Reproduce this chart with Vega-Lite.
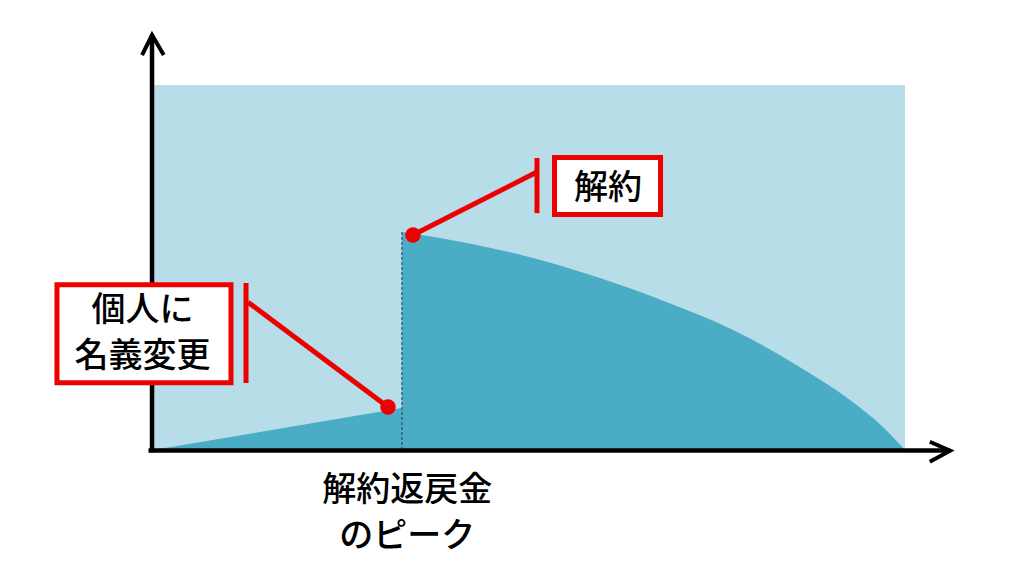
{
  "$schema": "https://vega.github.io/schema/vega-lite/v6.json",
  "width": 1024,
  "height": 572,
  "autosize": "none",
  "padding": 0,
  "background": "white",
  "config": {"view": {"stroke": null}},

  "datasets": {
    "bg": [{"x": 0, "y": 0, "x2": 100, "y2": 100}],
    "curve": [
      {"seg": "L", "x": 0, "y": 0},
      {"seg": "L", "x": 33.1, "y": 11.5},
      {"seg": "R", "x": 33.1, "y": 59.7},
      {"seg": "R", "x": 41.76, "y": 56.7},
      {"seg": "R", "x": 50.53, "y": 52.6},
      {"seg": "R", "x": 59.44, "y": 47.1},
      {"seg": "R", "x": 68.35, "y": 40.5},
      {"seg": "R", "x": 77.13, "y": 32.9},
      {"seg": "R", "x": 86.04, "y": 22.7},
      {"seg": "R", "x": 92.69, "y": 13.7},
      {"seg": "R", "x": 97.07, "y": 6.3},
      {"seg": "R", "x": 100, "y": 0}
    ],
    "peak": [{"x": 33.1, "y": 0, "x2": 33.1, "y2": 59.7}],
    "axes": [
      {"x": -0.13, "y": -0.6, "x2": -0.13, "y2": 113.7},
      {"x": -0.6, "y": -0.14, "x2": 106, "y2": -0.14}
    ],
    "heads": [
      {"g": "y", "o": 0, "x": -1.46, "y": 108.2},
      {"g": "y", "o": 1, "x": -0.13, "y": 113.7},
      {"g": "y", "o": 2, "x": 1.43, "y": 108.2},
      {"g": "x", "o": 0, "x": 103.3, "y": 2.27},
      {"g": "x", "o": 1, "x": 106, "y": -0.2},
      {"g": "x", "o": 2, "x": 103.3, "y": -3.2}
    ],
    "callouts": [
      {"x": 12.37, "y": 45.75, "x2": 12.37, "y2": 18.36},
      {"x": 12.63, "y": 40.5, "x2": 31.25, "y2": 11.8},
      {"x": 51.06, "y": 80.0, "x2": 51.06, "y2": 64.9},
      {"x": 51.06, "y": 76.16, "x2": 34.57, "y2": 58.9}
    ],
    "dots": [
      {"x": 31.25, "y": 11.8},
      {"x": 34.57, "y": 58.9}
    ],
    "boxes": [
      {"x": -12.77, "y": 18.4, "x2": 10.37, "y2": 45.3},
      {"x": 53.39, "y": 64.52, "x2": 67.49, "y2": 80.14}
    ],
    "labels": [
      {"x": -1.4, "y": 38.1, "text": "個人に"},
      {"x": -1.4, "y": 25.6, "text": "名義変更"},
      {"x": 60.5, "y": 71.4, "text": "解約"},
      {"x": 33.8, "y": -11.2, "text": "解約返戻金"},
      {"x": 33.8, "y": -23.75, "text": "のピーク"}
    ]
  },

  "encoding": {
    "x": {
      "field": "x",
      "type": "quantitative",
      "scale": {"domain": [-20.346, 115.824], "nice": false, "zero": false},
      "axis": null
    },
    "y": {
      "field": "y",
      "type": "quantitative",
      "scale": {"domain": [-33.425, 123.288], "nice": false, "zero": false},
      "axis": null
    }
  },

  "layer": [
    {
      "data": {"name": "bg"},
      "mark": {"type": "rect", "color": "#b7dde8"},
      "encoding": {"x2": {"field": "x2"}, "y2": {"field": "y2"}}
    },
    {
      "data": {"name": "curve"},
      "transform": [{"filter": "datum.seg == 'L'"}],
      "mark": {"type": "area", "color": "#4bacc6"}
    },
    {
      "data": {"name": "curve"},
      "transform": [{"filter": "datum.seg == 'R'"}],
      "mark": {"type": "area", "color": "#4bacc6", "interpolate": "monotone"}
    },
    {
      "data": {"name": "peak"},
      "mark": {"type": "rule", "color": "#1f3864", "strokeWidth": 1, "strokeDash": [3, 2]},
      "encoding": {"x2": {"field": "x2"}, "y2": {"field": "y2"}}
    },
    {
      "data": {"name": "axes"},
      "mark": {"type": "rule", "color": "black", "strokeWidth": 4.5},
      "encoding": {"x2": {"field": "x2"}, "y2": {"field": "y2"}}
    },
    {
      "data": {"name": "heads"},
      "mark": {"type": "line", "color": "black", "strokeWidth": 4, "strokeJoin": "miter"},
      "encoding": {
        "detail": {"field": "g"},
        "order": {"field": "o", "type": "quantitative"}
      }
    },
    {
      "data": {"name": "callouts"},
      "mark": {"type": "rule", "color": "#ee0000", "strokeWidth": 5},
      "encoding": {"x2": {"field": "x2"}, "y2": {"field": "y2"}}
    },
    {
      "data": {"name": "dots"},
      "mark": {"type": "point", "filled": true, "color": "#ee0000", "opacity": 1, "size": 240}
    },
    {
      "data": {"name": "boxes"},
      "mark": {"type": "rect", "fill": "white", "stroke": "#ee0000", "strokeWidth": 5},
      "encoding": {"x2": {"field": "x2"}, "y2": {"field": "y2"}}
    },
    {
      "data": {"name": "labels"},
      "mark": {
        "type": "text",
        "font": "Noto Sans CJK JP",
        "fontSize": 34,
        "fontWeight": 500,
        "color": "black",
        "align": "center",
        "baseline": "middle"
      },
      "encoding": {"text": {"field": "text"}}
    }
  ]
}
